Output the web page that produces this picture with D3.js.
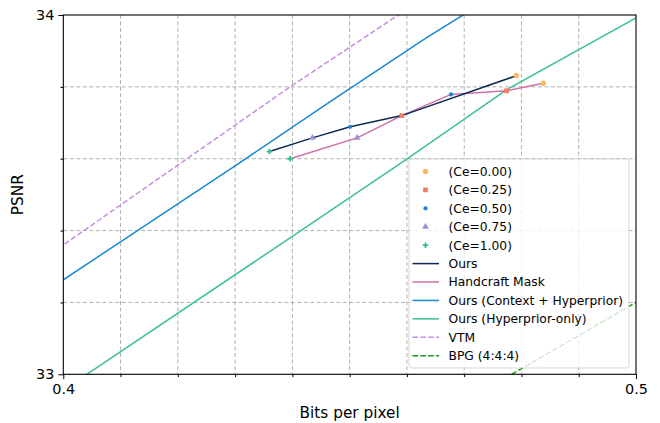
<!DOCTYPE html>
<html>
<head>
<meta charset="utf-8">
<script src="https://cdn.jsdelivr.net/npm/d3@7/dist/d3.min.js"></script>
<style>
  html, body { margin:0; padding:0; background:#fff; }
  svg { display:block; font-family:'DejaVu Sans', sans-serif; }
</style>
</head>
<body>
<div id="chart"></div>
<script>
// rate-distortion curves, values
const xMajor = [0.4, 0.5];
const xMinor = [0.41, 0.42, 0.43, 0.44, 0.45, 0.46, 0.47, 0.48, 0.49];
const yMajor = [33, 34];
const yMinor = [33.2, 33.4, 33.6, 33.8];

const oursBpp  = [0.4360, 0.4435, 0.4501, 0.4591, 0.4791];
const oursPsnr = [33.620, 33.658, 33.689, 33.720, 33.831];
const oursCe   = ['1.00', '0.75', '0.50', '0.25', '0.00'];

const maskBpp  = [0.4396, 0.4513, 0.4591, 0.4677, 0.4774, 0.4838];
const maskPsnr = [33.600, 33.658, 33.720, 33.779, 33.789, 33.810];
const maskCe   = ['1.00', '0.75', null, '0.50', '0.25', '0.00'];

const ctxBpp   = [0.39, 0.40, 0.43, 0.4466, 0.4635, 0.48];
const ctxPsnr  = [33.156, 33.263, 33.580, 33.759, 33.938, 34.100];

const hypBpp   = [0.39, 0.4041, 0.44, 0.4601, 0.4773, 0.50, 0.51];
const hypPsnr  = [32.850, 33.000, 33.384, 33.600, 33.791, 33.992, 34.080];

const vtmBpp   = [0.39, 0.40, 0.4396, 0.4585, 0.47];
const vtmPsnr  = [33.250, 33.360, 33.800, 34.000, 34.120];

const bpgBpp   = [0.47, 0.4783, 0.50, 0.51];
const bpgPsnr  = [32.920, 33.000, 33.200, 33.290];

const ceLevels = ['0.00', '0.25', '0.50', '0.75', '1.00'];

(function(){
  const width = 660, height = 423;
  const plot = {left:63.3, right:636, top:15, bottom:374.3};

  const ceColor  = {'0.00':'#fdb55e', '0.25':'#f27a6c', '0.50':'#1f7fd2', '0.75':'#9d8fd2', '1.00':'#35bf8a'};
  const ceSymbol = {'0.00':d3.symbolCircle, '0.25':d3.symbolSquare, '0.50':d3.symbolCircle, '0.75':d3.symbolTriangle, '1.00':d3.symbolCross};
  const ceSize   = {'0.00':22, '0.25':22, '0.50':14, '0.75':20, '1.00':17};

  const series = [
    {name:'Ours', x:oursBpp, y:oursPsnr, color:'#0d2b52', dash:null},
    {name:'Handcraft Mask', x:maskBpp, y:maskPsnr, color:'#cf6fa8', dash:null},
    {name:'Ours (Context + Hyperprior)', x:ctxBpp, y:ctxPsnr, color:'#1a88d2', dash:null},
    {name:'Ours (Hyperprior-only)', x:hypBpp, y:hypPsnr, color:'#3cbf93', dash:null},
    {name:'VTM', x:vtmBpp, y:vtmPsnr, color:'#c48fe0', dash:'5.5,2.4'},
    {name:'BPG (4:4:4)', x:bpgBpp, y:bpgPsnr, color:'#109a10', dash:'5.5,2.4'}
  ];

  const svg = d3.select('#chart').append('svg')
    .attr('width', width)
    .attr('height', height);

  const x = d3.scaleLinear().domain([0.4, 0.5]).range([plot.left, plot.right]);
  const y = d3.scaleLinear().domain([33, 34]).range([plot.bottom, plot.top]);

  svg.append('clipPath').attr('id','clip')
    .append('rect')
    .attr('x', plot.left).attr('y', plot.top)
    .attr('width', plot.right - plot.left)
    .attr('height', plot.bottom - plot.top);

  // grid
  const grid = svg.append('g')
    .attr('stroke','#b0b0b0')
    .attr('stroke-width',1)
    .attr('stroke-dasharray','4,2.5');
  grid.selectAll('.vx').data(xMinor).enter().append('line')
    .attr('x1', d => x(d)).attr('x2', d => x(d))
    .attr('y1', plot.top).attr('y2', plot.bottom);
  grid.selectAll('.hy').data(yMinor).enter().append('line')
    .attr('x1', plot.left).attr('x2', plot.right)
    .attr('y1', d => y(d)).attr('y2', d => y(d));

  // lines
  const line = d3.line().x(d => x(d[0])).y(d => y(d[1]));
  const lines = svg.append('g').attr('clip-path','url(#clip)');
  series.slice().reverse().forEach(s => {
    lines.append('path')
      .datum(d3.zip(s.x, s.y))
      .attr('d', line)
      .attr('fill','none')
      .attr('stroke', s.color)
      .attr('stroke-width', 1.5)
      .attr('stroke-dasharray', s.dash);
  });

  // markers
  const markers = svg.append('g');
  [[oursBpp, oursPsnr, oursCe], [maskBpp, maskPsnr, maskCe]].forEach(([bx, py, ce]) => {
    bx.forEach((v, i) => {
      if (!ce[i]) return;
      markers.append('path')
        .attr('transform', `translate(${x(v)},${y(py[i])})`)
        .attr('d', d3.symbol().type(ceSymbol[ce[i]]).size(ceSize[ce[i]])())
        .attr('fill', ceColor[ce[i]]);
    });
  });

  // axes
  const xAxis = svg.append('g').attr('transform', `translate(0,${plot.bottom})`);
  xAxis.call(d3.axisBottom(x).tickValues(xMajor).tickSize(4.9).tickPadding(4.5).tickFormat(d3.format('.1f')));
  xAxis.append('g').call(d3.axisBottom(x).tickValues(xMinor).tickSize(2.8).tickFormat(''));
  const yAxis = svg.append('g').attr('transform', `translate(${plot.left},0)`);
  yAxis.call(d3.axisLeft(y).tickValues(yMajor).tickSize(4.9).tickPadding(4).tickFormat(d3.format('d')));
  yAxis.append('g').call(d3.axisLeft(y).tickValues(yMinor).tickSize(2.8).tickFormat(''));
  svg.selectAll('.domain').remove();
  svg.selectAll('.tick line').attr('stroke','#000').attr('stroke-width',1);
  svg.selectAll('.tick text')
    .attr('font-family','DejaVu Sans').attr('font-size','14.4px').attr('fill','#000');

  svg.append('rect')
    .attr('x', plot.left).attr('y', plot.top)
    .attr('width', plot.right - plot.left)
    .attr('height', plot.bottom - plot.top)
    .attr('fill','none').attr('stroke','#000').attr('stroke-width',1.1);

  // axis labels
  svg.append('text')
    .attr('x', (plot.left + plot.right)/2).attr('y', 418)
    .attr('text-anchor','middle')
    .attr('font-size','15.3px')
    .text('Bits per pixel');
  svg.append('text')
    .attr('transform', `translate(23,${(plot.top + plot.bottom)/2}) rotate(-90)`)
    .attr('text-anchor','middle')
    .attr('font-size','15.3px')
    .text('PSNR');

  // legend
  const lg = svg.append('g');
  lg.append('rect')
    .attr('x',409).attr('y',159).attr('width',220).attr('height',209)
    .attr('rx',3)
    .attr('fill','#fff').attr('fill-opacity',0.8)
    .attr('stroke','#cccccc').attr('stroke-opacity',0.8);

  const rowY = i => 171.5 + i*18.42;
  ceLevels.forEach((c, i) => {
    lg.append('path')
      .attr('transform', `translate(425.5,${rowY(i)})`)
      .attr('d', d3.symbol().type(ceSymbol[c]).size(ceSize[c])())
      .attr('fill', ceColor[c]);
    lg.append('text')
      .attr('x',448.5).attr('y', rowY(i))
      .attr('dy','0.36em')
      .attr('font-size','12.3px')
      .text(`(Ce=${c})`);
  });
  series.forEach((s, j) => {
    const yy = rowY(j + ceLevels.length);
    lg.append('line')
      .attr('x1',412.5).attr('x2',439).attr('y1',yy).attr('y2',yy)
      .attr('stroke', s.color).attr('stroke-width',1.5)
      .attr('stroke-dasharray', s.dash);
    lg.append('text')
      .attr('x',448.5).attr('y', yy)
      .attr('dy','0.36em')
      .attr('font-size','12.3px')
      .text(s.name);
  });
})();
</script>
</body>
</html>
